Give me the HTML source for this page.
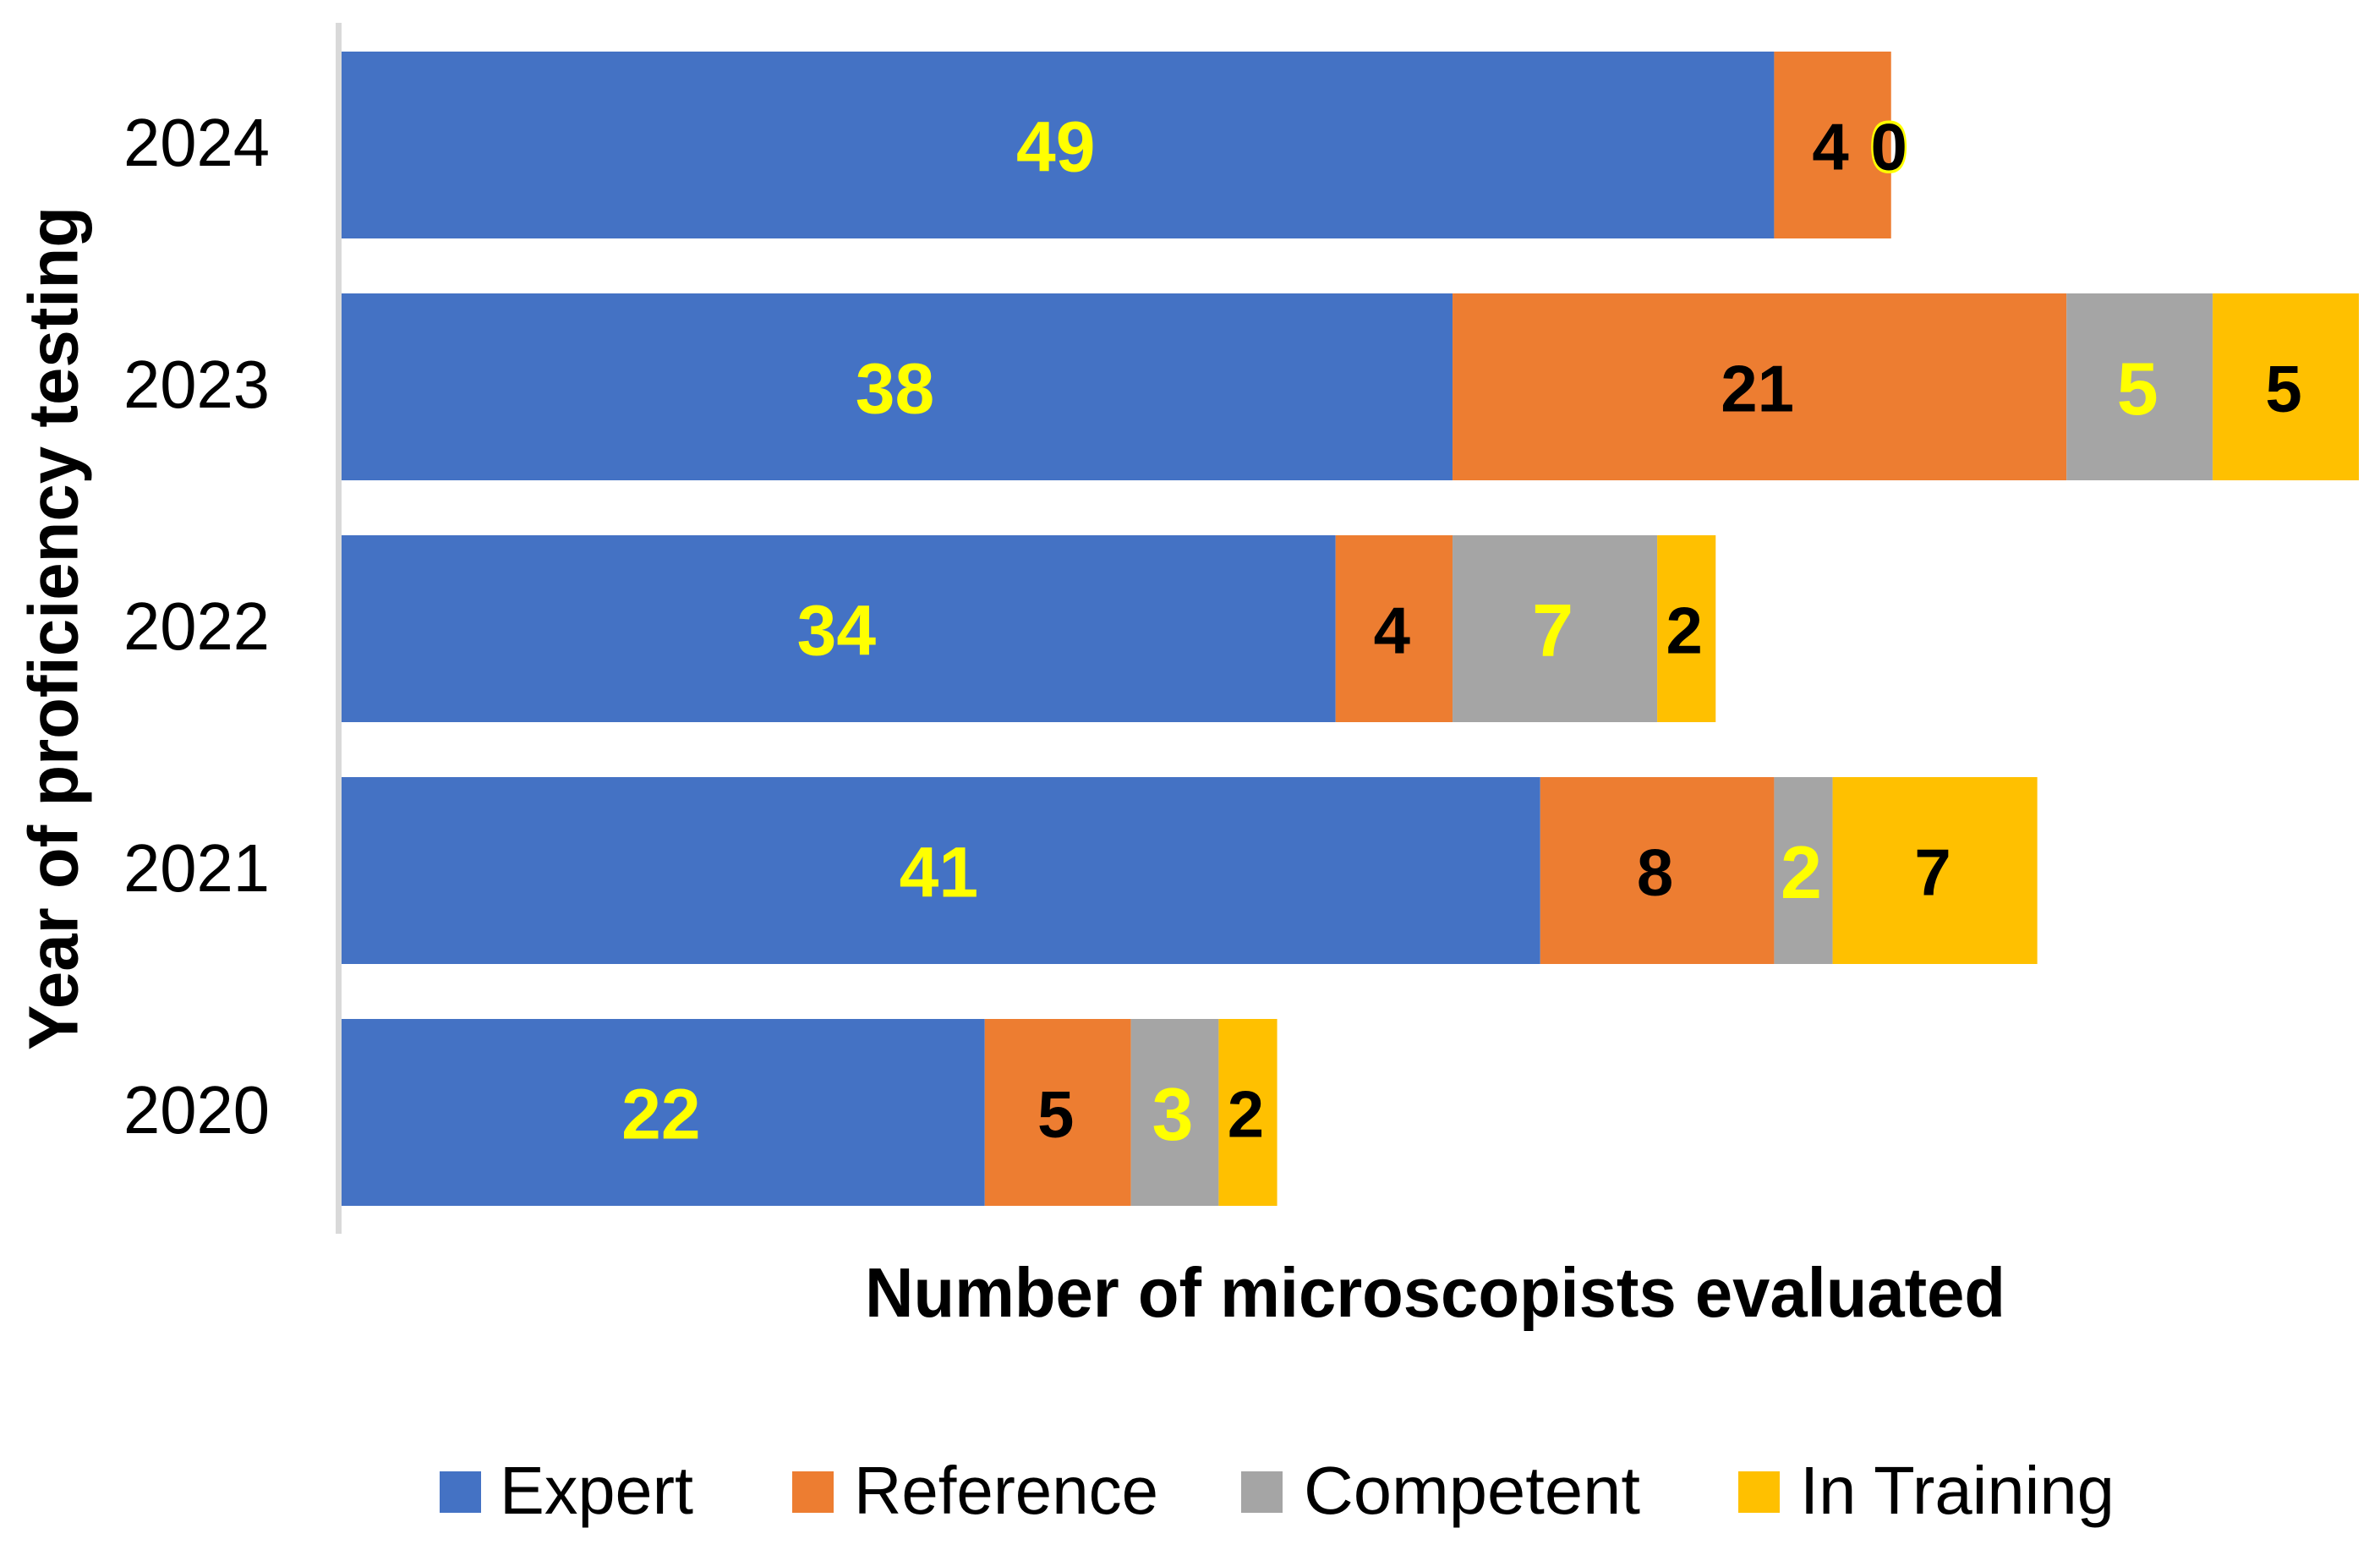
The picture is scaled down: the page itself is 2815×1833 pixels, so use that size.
<!DOCTYPE html>
<html>
<head>
<meta charset="utf-8">
<title>Microscopist proficiency chart</title>
<style>
html,body{margin:0;padding:0;background:#fff;}
svg{display:block;}
text{font-family:"Liberation Sans",sans-serif;}
</style>
</head>
<body>
<svg id="chart" xmlns="http://www.w3.org/2000/svg" width="2815" height="1833" viewBox="0 0 2815 1833">
  <rect x="0" y="0" width="2815" height="1833" fill="#ffffff"/>
  <text transform="translate(91.5,1242) rotate(-90)" font-size="83" font-weight="bold" fill="#000" textLength="998" lengthAdjust="spacingAndGlyphs">Year of proficiency testing</text>
  <text x="1023" y="1557" font-size="83" font-weight="bold" fill="#000" textLength="1349" lengthAdjust="spacingAndGlyphs">Number of microscopists evaluated</text>
  <g id="bars"></g>
  <g id="labels"></g>
  <g id="ticks"></g>
  <g>
    <g>
      <rect x="520" y="1740" width="49" height="49" fill="#4472C4"/>
      <text x="591" y="1790" font-size="80" fill="#000" textLength="229" lengthAdjust="spacingAndGlyphs">Expert</text>
    </g>
    <g>
      <rect x="937" y="1740" width="49" height="49" fill="#ED7D31"/>
      <text x="1010" y="1790" font-size="80" fill="#000" textLength="360" lengthAdjust="spacingAndGlyphs">Reference</text>
    </g>
    <g>
      <rect x="1468" y="1740" width="49" height="49" fill="#A5A5A5"/>
      <text x="1542" y="1790" font-size="80" fill="#000" textLength="398" lengthAdjust="spacingAndGlyphs">Competent</text>
    </g>
    <g>
      <rect x="2056" y="1740" width="49" height="49" fill="#FFC000"/>
      <text x="2129" y="1790" font-size="80" fill="#000" textLength="372" lengthAdjust="spacingAndGlyphs">In Training</text>
    </g>
  </g>
  <line x1="400.5" y1="27" x2="400.5" y2="1459" stroke="#D9D9D9" stroke-width="7"/>
</svg>
<script>
const categories = ["2024", "2023", "2022", "2021", "2020"];
const seriesNames = ["Expert", "Reference", "Competent", "In Training"];
const expert = [49, 38, 34, 41, 22];
const reference = [4, 21, 4, 8, 5];
const competent = [0, 5, 7, 2, 3];
const inTraining = [0, 5, 2, 7, 2];

const seriesValues = [expert, reference, competent, inTraining];
const seriesColors = ["#4472C4", "#ED7D31", "#A5A5A5", "#FFC000"];
const labelColors = ["#FFFF00", "#000000", "#FFFF00", "#000000"];
const labelSizes = [84, 78, 88, 78];

const SVG_NS = "http://www.w3.org/2000/svg";
const barsGroup = document.getElementById("bars");
const labelsGroup = document.getElementById("labels");
const ticksGroup = document.getElementById("ticks");

function xScale(v) { return 404 + v * 34.58; }
function yBand(i) { return 61 + i * 286; }
const bandHeight = 221;

categories.forEach(function (cat, i) {
  const top = yBand(i);
  const mid = top + bandHeight / 2;

  const tick = document.createElementNS(SVG_NS, "text");
  
  
  tick.setAttribute("x", 146);
  tick.setAttribute("y", mid + 24.5);
  tick.setAttribute("font-size", 80);
  tick.setAttribute("fill", "#000");
  tick.setAttribute("textLength", 173);
  tick.setAttribute("lengthAdjust", "spacingAndGlyphs");
  tick.textContent = cat;
  ticksGroup.appendChild(tick);

  let cum = 0;
  seriesValues.forEach(function (vals, s) {
    const v = vals[i];
    const x0 = xScale(cum);
    const x1 = xScale(cum + v);
    const slug = seriesNames[s].toLowerCase().replace(/\s+/g, '-');

    const r = document.createElementNS(SVG_NS, "rect");
    
    
    r.setAttribute("x", x0);
    r.setAttribute("y", top);
    r.setAttribute("width", x1 - x0);
    r.setAttribute("height", bandHeight);
    r.setAttribute("fill", seriesColors[s]);
    barsGroup.appendChild(r);

    const t = document.createElementNS(SVG_NS, "text");
    
    
    t.setAttribute("x", (x0 + x1) / 2 - 2.5);
    t.setAttribute("y", mid + labelSizes[s] * 0.37);
    t.setAttribute("text-anchor", "middle");
    t.setAttribute("font-size", labelSizes[s]);
    t.setAttribute("font-weight", "bold");
    t.setAttribute("fill", labelColors[s]);
    t.textContent = v;
    labelsGroup.appendChild(t);

    cum += v;
  });
});
</script>
</body>
</html>
